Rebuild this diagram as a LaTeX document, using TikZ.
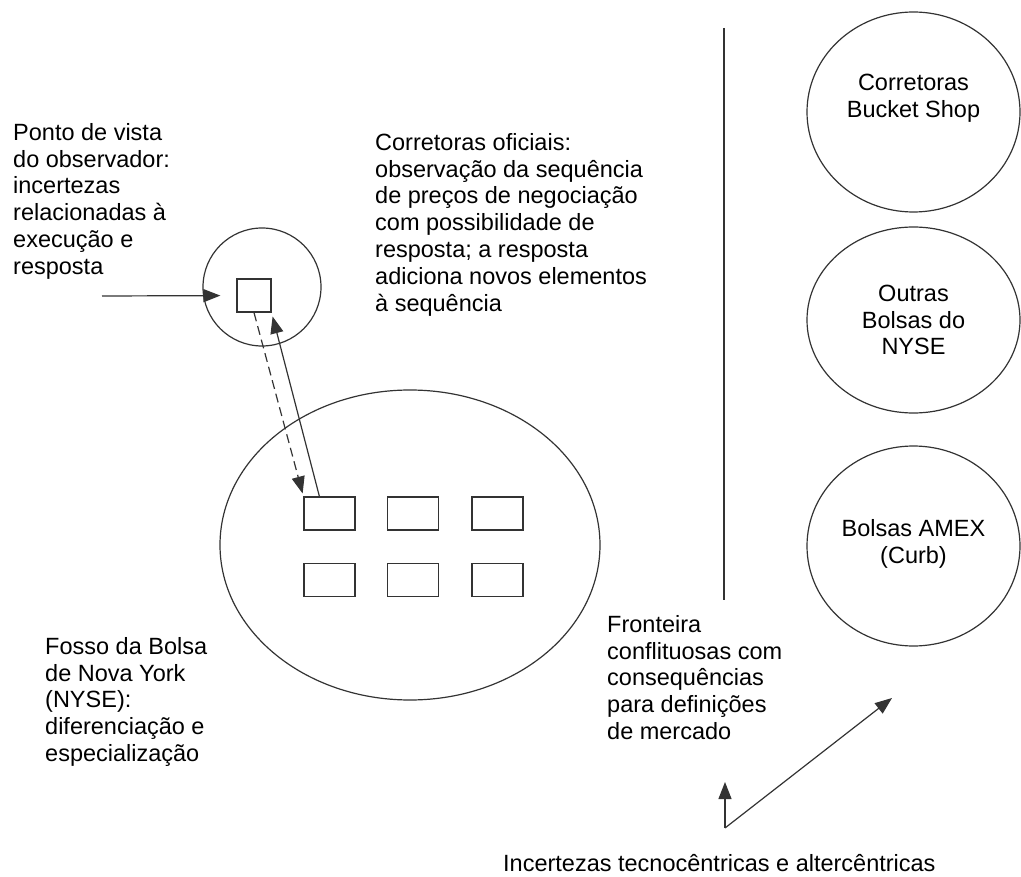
\documentclass[tikz,border=0pt]{standalone}
\usepackage{fontspec}
\setmainfont{Liberation Sans}
\usetikzlibrary{arrows.meta,shapes.geometric}

\begin{document}
\begin{tikzpicture}[x=1pt, y=-1pt,
    tip/.style={-{Triangle[length=17pt,width=13pt]}},
    ln/.style={draw=black!80, line width=1.2pt},
    txt/.style={font=\fontsize{23.5}{26.8}\selectfont, align=left, inner sep=0pt, anchor=north west},
    ctxt/.style={font=\fontsize{23.5}{26.8}\selectfont, align=center, inner sep=0pt},
    ell/.style={ln, ellipse, inner sep=0pt},
    box/.style={ln, rectangle, minimum width=51pt, minimum height=33pt, inner sep=0pt}]
                \useasboundingbox (0,0) rectangle (1021,877);

                % Observer and the pit
                \node[ell, minimum width=118pt, minimum height=118pt] (obs) at (262,287) {};
                \node[box, minimum width=34pt] (sq) at (254,295.5) {};
                \node[ell, minimum width=380pt, minimum height=310pt] (pit) at (410,545) {};
                \foreach \c/\x in {1/329.5, 2/413, 3/497.5} {
                    \node[box] (r1\c) at (\x,513.5) {};
                    \node[box] (r2\c) at (\x,580) {};
                }

                % Exchanges on the other side
                \node[ell, minimum width=213pt, minimum height=200pt] (bucket) at (913.5,112) {};
                \node[ell, minimum width=213pt, minimum height=186pt] (others) at (913.5,320) {};
                \node[ell, minimum width=213pt, minimum height=200pt] (amex) at (913.5,546) {};
                \node[ctxt] at ([yshift=14pt]bucket.center) {Corretoras\\Bucket Shop};
                \node[ctxt] at (others) {Outras\\Bolsas do\\NYSE};
                \node[ctxt] at ([yshift=2pt]amex.center) {Bolsas AMEX\\(Curb)};

                % Boundary
                \coordinate (b1) at (724,28);
                \coordinate (b2) at (724,600);
                \draw[ln] (b1) -- (b2);

                % Texts
                \node[txt] (obstxt) at (13,123) {Ponto de vista\\do observador:\\incertezas\\relacionadas à\\execução e\\resposta};
                \node[txt] (offtxt) at (375,133) {Corretoras oficiais:\\observação da sequência\\de preços de negociação\\com possibilidade de\\resposta; a resposta\\adiciona novos elementos\\à sequência};
                \node[txt] (pittxt) at (45,637) {Fosso da Bolsa\\de Nova York\\(NYSE):\\diferenciação e\\especialização};
                \node[txt] (fronttxt) at (607,615) {Fronteira\\conflituosas com\\consequências\\para definições\\de mercado};
                \node[txt, anchor=base west] (unc) at (503,871) {Incertezas tecnocêntricas e altercêntricas};

                % Arrows
                \coordinate (in) at (102,296);
                \draw[ln,tip,shorten >=16pt] (in) -- (sq);
                \draw[ln,tip,dash pattern=on 9pt off 5pt,shorten >=3pt] (sq.south) -- (r11.north west);
                \draw[ln,tip,shorten >=4pt] ([xshift=16pt]r11.north west) -- (sq.south east);
                \coordinate (v) at (725,828);
                \coordinate (vu) at (725,782);
                \coordinate (vd) at (892,698);
                \draw[ln,tip] (v) -- (vu);
                \draw[ln,tip] (v) -- (vd);
\end{tikzpicture}
\end{document}
